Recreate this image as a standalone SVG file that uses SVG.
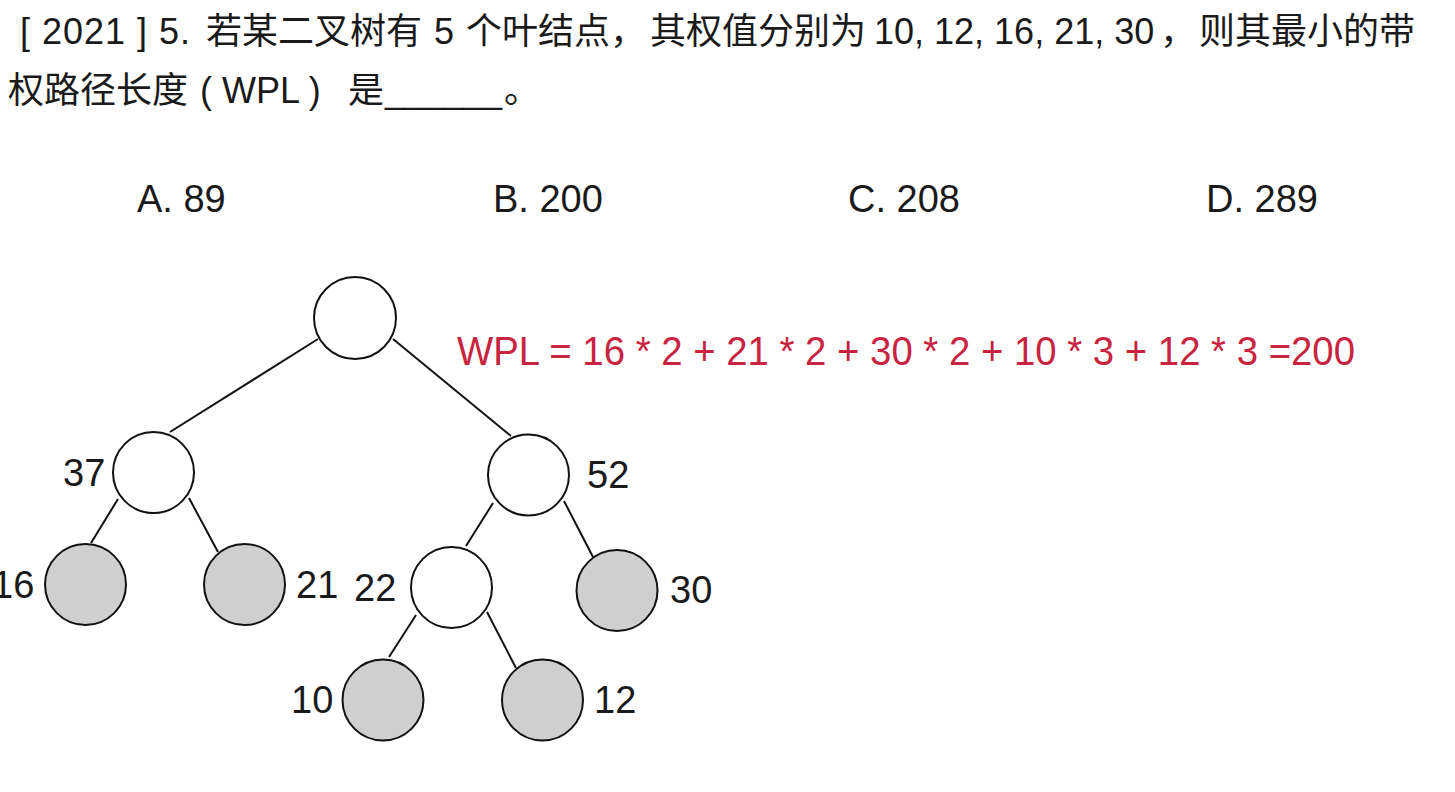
<svg xmlns="http://www.w3.org/2000/svg" width="1455" height="792" viewBox="0 0 1455 792">
<style>
.t{font-family:"Liberation Sans","Noto Sans CJK SC",sans-serif;fill:#1a1a1a}
.q{font-size:36px}
.o{font-size:38px}
.lb{font-size:38px}
.wpl{font-family:"Liberation Sans",sans-serif;font-size:40px;fill:#c8233f}
.e{stroke:#111;stroke-width:2;fill:none}
.n{stroke:#111;stroke-width:2;fill:#fff}
.leaf{stroke:#111;stroke-width:2;fill:#cfcfcf}
</style>
<rect width="1455" height="792" fill="#fff"/>
<g id="question">
<text class="t q" y="44"><tspan x="20" textLength="170" lengthAdjust="spacing">[ 2021 ] 5.</tspan><tspan x="206">若某二叉树有</tspan><tspan x="434">5</tspan><tspan x="466">个叶结点，</tspan><tspan x="650">其权值分别为</tspan><tspan x="874">10, 12, 16, 21, 30</tspan><tspan x="1160">，</tspan><tspan x="1199">则其最小的带</tspan></text>
<text class="t q" y="103"><tspan x="8">权路径长度</tspan><tspan x="200">( WPL )</tspan><tspan x="348">是</tspan><tspan x="385" textLength="117" lengthAdjust="spacingAndGlyphs">______</tspan></text>
<text class="t q" x="504" y="103">。</text>
</g>
<g id="options">
<text class="t o" x="137" y="212">A. 89</text>
<text class="t o" x="493" y="212">B. 200</text>
<text class="t o" x="848" y="212">C. 208</text>
<text class="t o" x="1206" y="212">D. 289</text>
</g>
<g id="connectors">
<line class="e" x1="318" y1="339" x2="170" y2="432"/>
<line class="e" x1="393" y1="339" x2="511" y2="436"/>
<line class="e" x1="118" y1="499" x2="91" y2="543"/>
<line class="e" x1="189" y1="498" x2="218" y2="552"/>
<line class="e" x1="493" y1="503" x2="466" y2="546"/>
<line class="e" x1="564" y1="501" x2="593" y2="557"/>
<line class="e" x1="416" y1="615" x2="389" y2="657"/>
<line class="e" x1="487" y1="612" x2="516" y2="668"/>
</g>
<g id="root"><circle class="n" cx="355" cy="318" r="41"/></g>
<g id="n37"><circle class="n" cx="153.5" cy="472.5" r="40.5"/><text class="t lb" x="63" y="486">37</text></g>
<g id="n52"><circle class="n" cx="528.5" cy="475" r="40.5"/><text class="t lb" x="587" y="488">52</text></g>
<g id="n16"><circle class="leaf" cx="85.5" cy="584.5" r="40.5"/><text class="t lb" x="-8" y="598">16</text></g>
<g id="n21"><circle class="leaf" cx="244.5" cy="584.5" r="40.5"/><text class="t lb" x="296" y="598">21</text></g>
<g id="n22"><circle class="n" cx="451.5" cy="587.5" r="40.5"/><text class="t lb" x="354" y="601">22</text></g>
<g id="n30"><circle class="leaf" cx="617" cy="590.5" r="40.5"/><text class="t lb" x="670" y="603">30</text></g>
<g id="n10"><circle class="leaf" cx="383" cy="700" r="40.5"/><text class="t lb" x="291" y="713">10</text></g>
<g id="n12"><circle class="leaf" cx="542.5" cy="700" r="40.5"/><text class="t lb" x="594" y="713">12</text></g>
<g id="formula"><text class="wpl" x="457" y="365" textLength="898" lengthAdjust="spacingAndGlyphs">WPL = 16 * 2 + 21 * 2 + 30 * 2 + 10 * 3 + 12 * 3 =200</text></g>
</svg>
